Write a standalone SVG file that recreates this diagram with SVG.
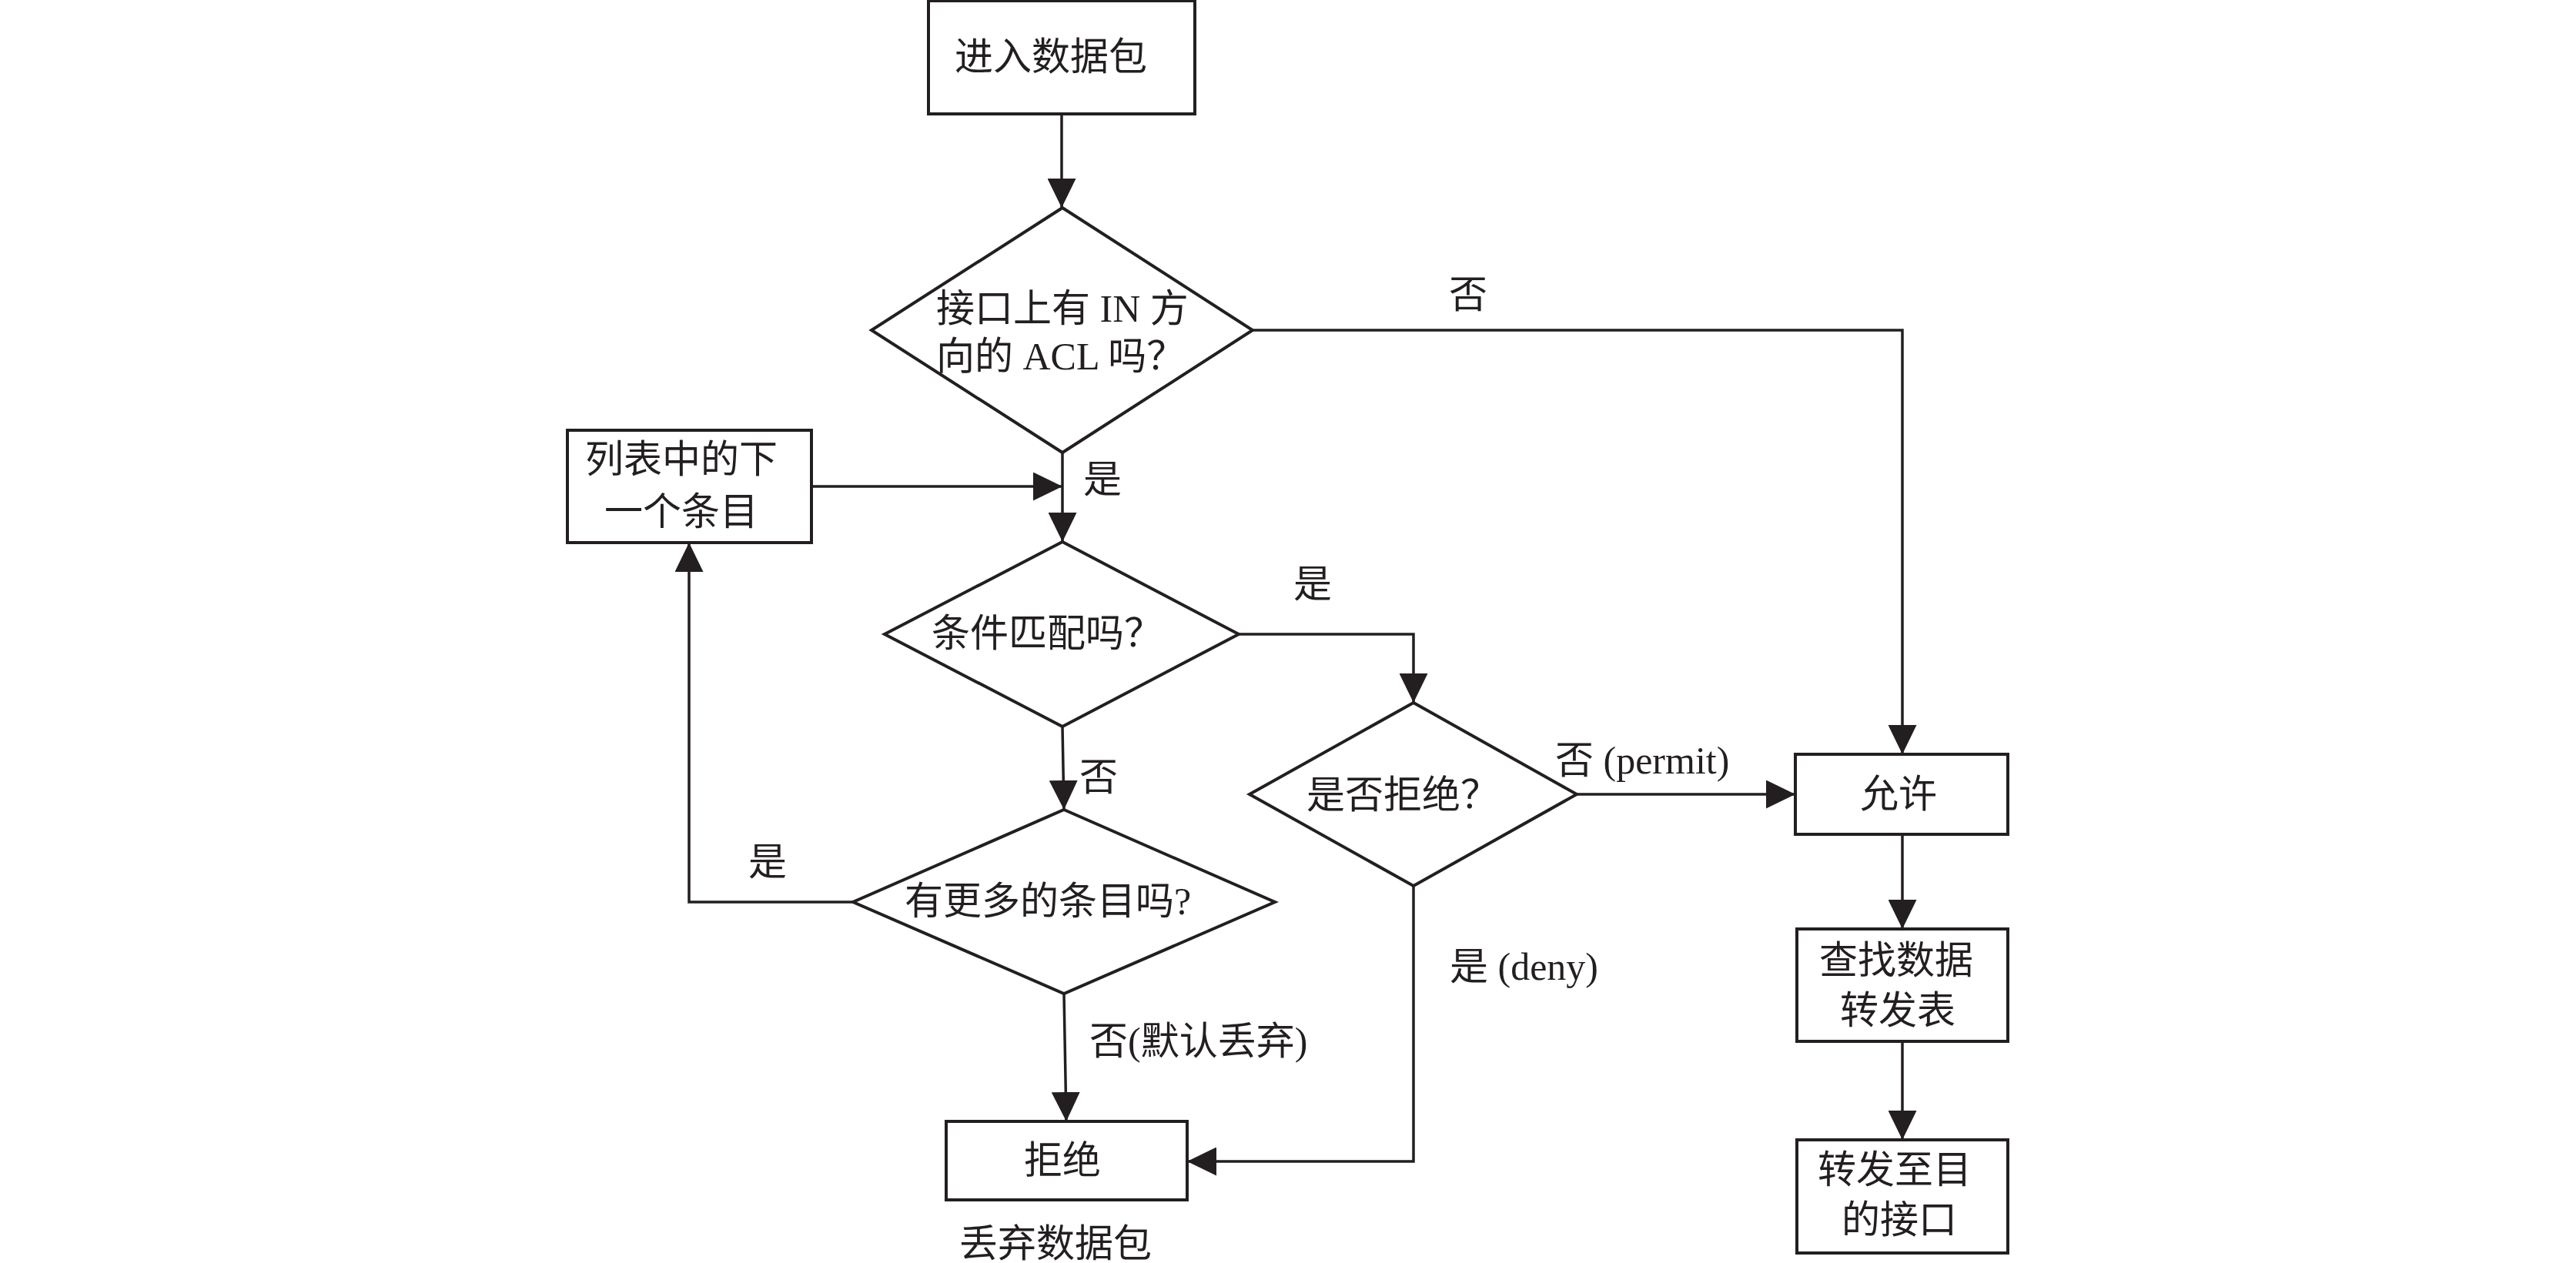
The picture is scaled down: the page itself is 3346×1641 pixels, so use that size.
<svg xmlns="http://www.w3.org/2000/svg" width="3346" height="1641" viewBox="0 0 3346 1641">
<style>
.shape{fill:#fff;stroke:#231f20;stroke-width:4}
.conn{fill:none;stroke:#231f20;stroke-width:3.5;marker-end:url(#ah)}
.line{fill:none;stroke:#231f20;stroke-width:3.5}
text{font-family:"Liberation Serif","Noto Sans CJK SC",serif;font-size:50px;fill:#231f20}
</style>
<defs>
<marker id="ah" markerUnits="userSpaceOnUse" markerWidth="38" markerHeight="37" refX="38" refY="18.5" orient="auto">
<path d="M0,0 L38,18.5 L0,37 Z" fill="#231f20"/>
</marker>
</defs>
<rect width="3346" height="1641" fill="#fff"/>
<g id="connectors">
<path class="conn" d="M1379,148 L1379,270"/>
<path class="conn" d="M1627,429 L2471,429 L2471,980"/>
<path class="conn" d="M1380,588 L1380,704"/>
<path class="conn" d="M1054,632 L1380,632"/>
<path class="conn" d="M1609,824 L1836,824 L1836,913"/>
<path class="conn" d="M1380,944 L1382,1052"/>
<path class="conn" d="M1108,1172 L895,1172 L895,705"/>
<path class="conn" d="M1382,1291 L1385,1457"/>
<path class="conn" d="M2048,1032 L2332,1032"/>
<path class="conn" d="M1836,1151 L1836,1509 L1542,1509"/>
<path class="conn" d="M2471,1084 L2471,1207"/>
<path class="conn" d="M2471,1353 L2471,1481"/>
<g id="labels">
<text x="1882" y="400">否</text>
<text x="1407" y="640">是</text>
<text x="1680" y="776">是</text>
<text x="1402" y="1027">否</text>
<text x="972" y="1137">是</text>
<text x="1415" y="1370">否(默认丢弃)</text>
<text x="2020" y="1005">否 (permit)</text>
<text x="1883" y="1273">是 (deny)</text>
</g>
</g>
<g id="start">
<rect class="shape" x="1206" y="1" width="346" height="147"/>
<text x="1240" y="91">进入数据包</text>
</g>
<g id="acl-check">
<polygon class="shape" points="1380,270 1627,429 1380,588 1132,429"/>
<text x="1216" y="418">接口上有 IN 方</text>
<text x="1216" y="480">向的 ACL 吗？</text>
</g>
<g id="next-entry">
<rect class="shape" x="737" y="559" width="317" height="146"/>
<text x="885" y="614" text-anchor="middle">列表中的下</text>
<text x="885" y="682" text-anchor="middle">一个条目</text>
</g>
<g id="match">
<polygon class="shape" points="1380,704 1609,824 1380,944 1149,824"/>
<text x="1210" y="840">条件匹配吗？</text>
</g>
<g id="deny-check">
<polygon class="shape" points="1836,913 2048,1032 1836,1151 1623,1032"/>
<text x="1697" y="1050">是否拒绝？</text>
</g>
<g id="more-entries">
<polygon class="shape" points="1382,1052 1656,1172 1382,1291 1108,1172"/>
<text x="1175" y="1188">有更多的条目吗?</text>
</g>
<g id="reject">
<rect class="shape" x="1229" y="1457" width="313" height="102"/>
<text x="1330" y="1525">拒绝</text>
<text x="1246" y="1633">丢弃数据包</text>
</g>
<g id="permit">
<rect class="shape" x="2332" y="980" width="276" height="104"/>
<text x="2416" y="1049">允许</text>
</g>
<g id="lookup">
<rect class="shape" x="2334" y="1207" width="274" height="146"/>
<text x="2363" y="1265">查找数据</text>
<text x="2390" y="1330">转发表</text>
</g>
<g id="forward">
<rect class="shape" x="2334" y="1481" width="274" height="147"/>
<text x="2361" y="1537">转发至目</text>
<text x="2392" y="1602">的接口</text>
</g>
</svg>
